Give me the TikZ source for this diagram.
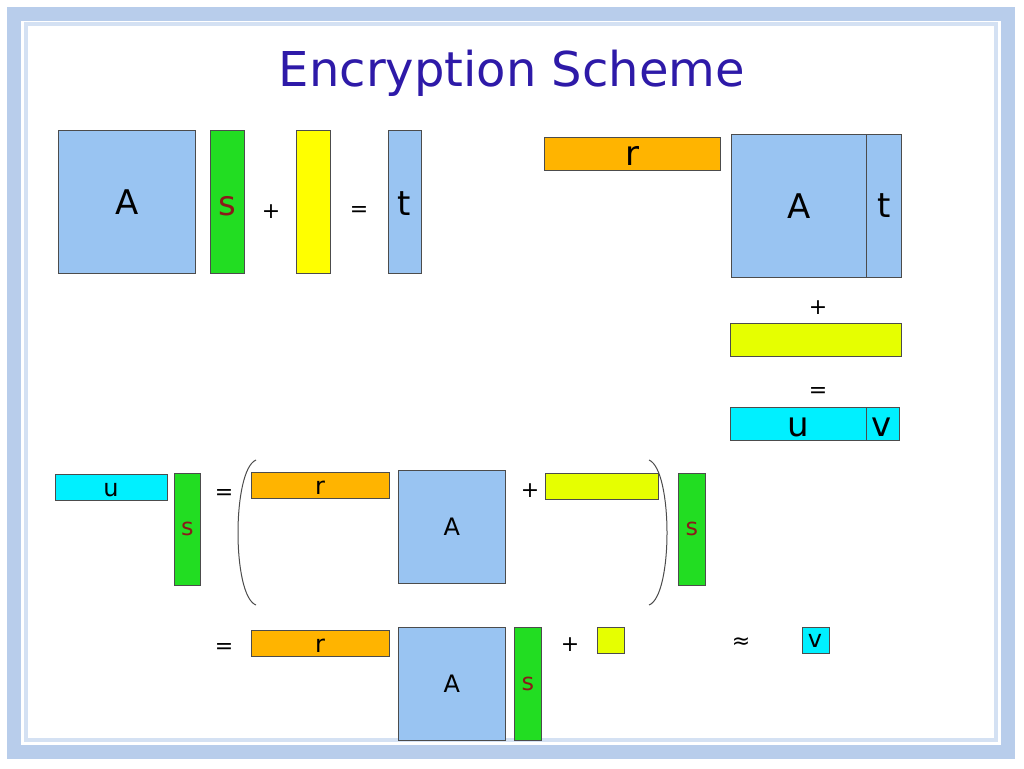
\documentclass[tikz,border=0pt]{standalone}
\usepackage{fontspec}
\setmainfont{DejaVu Sans}
\begin{document}
\begin{tikzpicture}[x=1pt,y=-1pt,
 bx/.style={draw=black!70,line width=0.6pt,anchor=north west,inner sep=0pt,font=\fontsize{34}{34}\selectfont},
 sm/.style={font=\fontsize{24}{24}\selectfont},
 op/.style={font=\fontsize{22}{22}\selectfont},
 par/.style={draw=black!70,line width=1pt}]
\definecolor{lb}{HTML}{99C4F2}\definecolor{gr}{HTML}{22DD22}\definecolor{ye}{HTML}{FFFF00}
\definecolor{yg}{HTML}{E6FF00}\definecolor{orr}{HTML}{FFB400}\definecolor{cy}{HTML}{00F0FF}
\definecolor{sred}{HTML}{8B1A1A}\definecolor{ttl}{HTML}{2E1AA8}\definecolor{frm}{HTML}{B8CDEB}
\useasboundingbox (0,0) rectangle (1024,768);
\fill[white] (0,0) rectangle (1024,768);
\draw[frm,line width=14pt] (14,14) rectangle (1008,752);
\draw[frm!60,line width=4pt] (26,24) rectangle (996,740);
\node[text=ttl,font=\fontsize{48}{48}\selectfont] (title) at (512,73) {Encryption Scheme};
% top left
\node[bx,fill=lb,minimum width=137pt,minimum height=143pt] (A1) at (58,130) {A};
\node[bx,fill=gr,minimum width=34pt,minimum height=143pt,text=sred] (s1) at (210,130) {};
\node[font=\fontsize{34}{34}\selectfont,text=sred] at (227,206) {s};
\node[op] (p1) at (271,212) {+};
\node[bx,fill=ye,minimum width=34pt,minimum height=143pt] (e1) at (296,130) {};
\node[op] (q1) at (359,212) {=};
\node[bx,fill=lb,minimum width=33pt,minimum height=143pt] (t1) at (388,130) {};
\node[font=\fontsize{34}{34}\selectfont] at (404,204) {t};
% top right
\node[bx,fill=orr,minimum width=176pt,minimum height=33pt] (r1) at (544,137) {};
\node[font=\fontsize{34}{34}\selectfont] at (632,156) {r};
\node[bx,fill=lb,minimum width=135pt,minimum height=143pt] (A2) at (731,134) {A};
\node[bx,fill=lb,minimum width=35pt,minimum height=143pt] (t2) at (866,134) {t};
\node[op] (p2) at (818,308) {+};
\node[bx,fill=yg,minimum width=171pt,minimum height=33pt] (e2) at (730,323) {};
\node[op] (q2) at (818,392) {=};
\node[bx,fill=cy,minimum width=136pt,minimum height=33pt] (u1) at (730,407) {};
\node[font=\fontsize{34}{34}\selectfont] at (798,427) {u};
\node[bx,fill=cy,minimum width=33pt,minimum height=33pt] (v1) at (866,407) {};
\node[font=\fontsize{34}{34}\selectfont] at (882,427) {v};
% middle
\node[bx,fill=cy,minimum width=112pt,minimum height=26pt,sm] (u2) at (55,474) {};
\node[sm] at (111,490) {u};
\node[bx,fill=gr,minimum width=26pt,minimum height=112pt,sm,text=sred] (s2) at (174,473) {s};
\node[op] (q3) at (224,494) {=};
\draw[par] (256,460) .. controls (232,470) and (232,596) .. (256,605);
\node[bx,fill=orr,minimum width=138pt,minimum height=26pt] (r2) at (251,472) {};
\node[sm] at (320,488) {r};
\node[bx,fill=lb,minimum width=107pt,minimum height=113pt,sm] (A3) at (398,470) {A};
\node[op] (p3) at (530,491) {+};
\node[bx,fill=yg,minimum width=113pt,minimum height=26pt] (e3) at (545,473) {};
\draw[par] (649,460) .. controls (673,470) and (673,596) .. (649,605);
\node[bx,fill=gr,minimum width=27pt,minimum height=112pt,sm,text=sred] (s3) at (678,473) {s};
% bottom
\node[op] (q4) at (224,648) {=};
\node[bx,fill=orr,minimum width=138pt,minimum height=26pt] (r3) at (251,630) {};
\node[sm] at (320,646) {r};
\node[bx,fill=lb,minimum width=107pt,minimum height=113pt,sm] (A4) at (398,627) {A};
\node[bx,fill=gr,minimum width=27pt,minimum height=113pt,sm,text=sred] (s4) at (514,627) {s};
\node[op] (p4) at (570,645) {+};
\node[bx,fill=yg,minimum width=27pt,minimum height=26pt] (e4) at (597,627) {};
\node[op] (ap) at (741,643) {≈};
\node[bx,fill=cy,minimum width=27pt,minimum height=26pt] (v2) at (802,627) {};
\node[sm] at (815,641) {v};
\end{tikzpicture}
\end{document}
